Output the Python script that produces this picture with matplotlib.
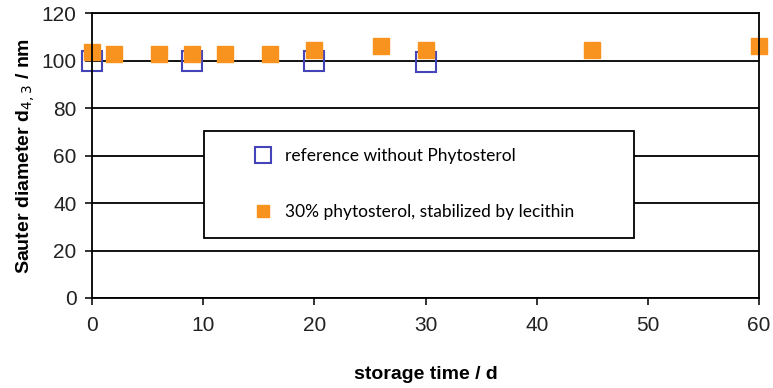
import matplotlib
matplotlib.use('Agg')
import matplotlib.pyplot as plt

ref_days = [0, 9, 20, 30]
ref_size = [100, 100, 100, 99.5]

phyto_days = [0, 2, 6, 9, 12, 16, 20, 26, 30, 45, 60]
phyto_size = [103.5, 103, 103, 103, 103, 103, 104.5, 106, 104.5, 104.5, 106]

x_ticks = [0, 10, 20, 30, 40, 50, 60]
y_ticks = [0, 20, 40, 60, 80, 100, 120]

plt.rcParams['font.family'] = ['Liberation Sans', 'DejaVu Sans']

fig, ax = plt.subplots(1)
fig.set_size_inches(7.73, 3.88)
fig.subplots_adjust(left=0.119, right=0.982, top=0.966, bottom=0.232)

ax.set_xlim(0, 60)
ax.set_ylim(0, 120)
ax.set_xticks(x_ticks)
ax.set_yticks(y_ticks)
ax.yaxis.grid(True, color='black', linewidth=1.3)
ax.set_axisbelow(True)
for sp in ax.spines.values():
    sp.set_linewidth(1.3)
ax.tick_params(direction='out', length=5, width=1.3, labelsize=15, colors='#222222')
ax.tick_params(axis='y', pad=6)
ax.tick_params(axis='x', pad=8)

ax.plot(ref_days, ref_size,
        linestyle='none',
        marker='s',
        ms=15,
        markerfacecolor='none',
        markeredgecolor='#4444b8',
        markeredgewidth=1.5,
        clip_on=False,
        label='reference without Phytosterol')
ax.plot(phyto_days, phyto_size,
        linestyle='none',
        marker='s',
        ms=11,
        color='#f7931e',
        clip_on=False,
        label='30% phytosterol, stabilized by lecithin')

ax.set_xlabel('storage time / d', fontsize=14, fontweight='bold', labelpad=22)
ax.set_ylabel('Sauter diameter d$_{4,3}$ / nm', fontsize=14, fontweight='bold', labelpad=3)

# legend box sits in the middle of the plot
leg = ax.legend(loc='upper left', bbox_to_anchor=(0.168, 0.186, 0.645, 0.40),
                mode='expand', fancybox=False, framealpha=1,
                edgecolor='black', labelspacing=2.3,
                prop={'family': 'Lato', 'size': 12.5},
                borderpad=1.0, handletextpad=-1.15, borderaxespad=0,
                markerscale=0.75, handlelength=4.8)
leg.get_frame().set_linewidth(1.3)
leg.get_frame().set_facecolor('white')

fig.savefig('out.png', dpi=100)
